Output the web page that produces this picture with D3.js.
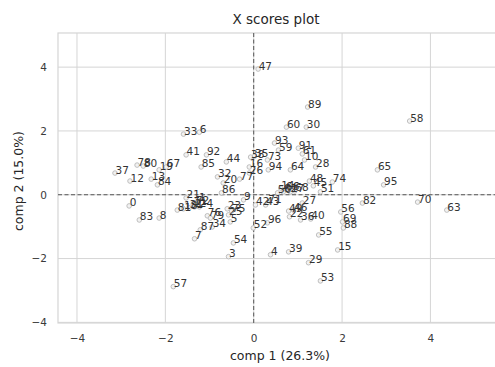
<!DOCTYPE html>
<html>
<head>
<meta charset="utf-8">
<script src="https://cdn.jsdelivr.net/npm/d3@7/dist/d3.min.js"></script>
<style>
  html, body { margin: 0; padding: 0; background: #fff; }
  svg { display: block; font-family: "DejaVu Sans", sans-serif; }
</style>
</head>
<body>
<svg id="chart" width="495" height="367"></svg>
<script>
// Sample labels and their PLS X scores (comp 1, comp 2)
const sampleIds = [0,1,2,3,4,5,6,7,8,9,10,11,12,13,14,15,16,17,18,19,20,21,22,23,24,25,26,27,28,29,30,31,32,33,34,35,36,37,38,39,40,41,42,43,44,45,46,47,48,49,50,51,52,53,54,55,56,57,58,59,60,61,62,63,64,65,66,67,68,69,70,71,72,73,74,75,76,77,78,79,80,81,82,83,84,85,86,87,88,89,91,92,93,94,95,96];
const comp1 = [-2.82,-1.25,-1.34,-0.57,0.38,-0.53,-1.23,-1.34,-2.14,-0.23,1.15,-1.37,-2.80,-2.32,0.61,1.90,-0.10,0.83,-1.59,-2.14,-0.69,-1.53,0.81,-0.60,-1.23,-0.57,-0.10,1.10,1.40,1.24,1.19,-1.46,-0.82,-1.59,-0.94,0.02,1.06,-3.14,-0.07,0.79,1.29,-1.53,0.04,0.27,-0.62,1.35,0.90,0.10,1.26,0.79,0.54,1.51,-0.01,1.51,-0.46,1.47,1.97,-1.82,3.53,0.56,0.74,1.10,0.67,4.37,0.83,2.80,0.72,-1.98,0.93,2.01,3.71,0.32,-1.32,0.31,1.78,-0.50,-1.05,-0.32,-2.64,-0.98,-2.50,-1.73,2.46,-2.59,-2.18,-1.19,-0.73,-1.21,2.03,1.22,1.01,-1.07,0.47,0.33,2.94,0.31];
const comp2 = [-0.35,-0.19,-0.38,-1.94,-1.88,-0.85,1.96,-1.38,-0.73,-0.16,1.09,-0.29,0.43,0.49,0.21,-1.73,0.87,0.09,-0.44,0.78,0.37,-0.10,-0.69,-0.44,-0.38,-0.63,0.68,-0.26,0.87,-2.13,2.12,-0.41,0.56,1.90,-1.01,1.21,-0.79,0.68,1.18,-1.79,-0.76,1.25,-0.32,-0.32,1.03,0.28,-0.48,3.94,0.43,-0.51,0.06,0.09,-1.04,-2.70,-1.51,-1.26,-0.54,-2.88,2.31,1.40,2.12,1.28,0.09,-0.48,0.78,0.78,0.18,0.87,0.12,-0.85,-0.23,-0.24,-0.26,1.09,0.40,-0.51,-0.66,0.49,0.93,-0.73,0.90,-0.48,-0.26,-0.79,0.31,0.87,0.06,-1.10,-1.04,2.75,1.46,1.25,1.62,0.78,0.31,-0.88];
const tickValues = [-4, -2, 0, 2, 4];

const titleText = "X scores plot";
const xLabel = "comp 1 (26.3%)";
const yLabel = "comp 2 (15.0%)";

(function draw() {
  const svg = d3.select("#chart");
  const pLeft = 58, pRight = 502, pTop = 33, pBottom = 323;

  const x = d3.scaleLinear().domain([-4.43, 5.62]).range([pLeft, pRight]);
  const y = d3.scaleLinear().domain([-4.02, 5.07]).range([pBottom, pTop]);

  const gridColor = "#d5d5d5";
  const tickColor = "#3a3a3a";

  // background grid
  const grid = svg.append("g");
  grid.selectAll("line.vx").data(tickValues).join("line")
    .attr("x1", d => x(d)).attr("x2", d => x(d))
    .attr("y1", pTop).attr("y2", pBottom)
    .attr("stroke", gridColor).attr("stroke-width", 1);
  grid.selectAll("line.hy").data(tickValues).join("line")
    .attr("x1", pLeft).attr("x2", pRight)
    .attr("y1", d => y(d)).attr("y2", d => y(d))
    .attr("stroke", gridColor).attr("stroke-width", 1);

  // frame
  svg.append("rect")
    .attr("x", pLeft).attr("y", pTop)
    .attr("width", pRight - pLeft).attr("height", pBottom - pTop)
    .attr("fill", "none").attr("stroke", gridColor).attr("stroke-width", 1.2);

  // axes (labels only, no tick marks)
  const fmt = d => (d < 0 ? "\u2212" + Math.abs(d) : String(d));
  const xAxis = svg.append("g")
    .attr("transform", `translate(0,${pBottom})`)
    .call(d3.axisBottom(x).tickValues(tickValues).tickFormat(fmt).tickSize(0).tickPadding(12));
  const yAxis = svg.append("g")
    .attr("transform", `translate(${pLeft},0)`)
    .call(d3.axisLeft(y).tickValues(tickValues).tickFormat(fmt).tickSize(0).tickPadding(11));
  [xAxis, yAxis].forEach(a => {
    a.select(".domain").remove();
    a.selectAll("text").attr("fill", tickColor).style("font-size", "10.5px")
      .style("font-family", '"DejaVu Sans", sans-serif');
  });

  // zero reference lines
  svg.append("line")
    .attr("x1", x(0)).attr("x2", x(0)).attr("y1", pTop).attr("y2", pBottom)
    .attr("stroke", "#555").attr("stroke-width", 1).attr("stroke-dasharray", "4,2.5");
  svg.append("line")
    .attr("x1", pLeft).attr("x2", pRight).attr("y1", y(0)).attr("y2", y(0))
    .attr("stroke", "#555").attr("stroke-width", 1).attr("stroke-dasharray", "4,2.5");

  // points with sample labels
  const pts = sampleIds.map((id, i) => ({ id, c1: comp1[i], c2: comp2[i] }));
  const pg = svg.append("g");
  pg.selectAll("circle").data(pts).join("circle")
    .attr("cx", d => x(d.c1)).attr("cy", d => y(d.c2)).attr("r", 2.3)
    .attr("fill", "#f2f2f2").attr("stroke", "#b8b8b8").attr("stroke-width", 0.9);
  pg.selectAll("text").data(pts).join("text")
    .attr("x", d => x(d.c1) + 0.5).attr("y", d => y(d.c2) + 0.5)
    .attr("fill", "#333").style("font-size", "10.5px")
    .text(d => d.id);

  // titles
  svg.append("text").attr("x", 276).attr("y", 24).attr("text-anchor", "middle")
    .attr("fill", "#262626").style("font-size", "13.5px").text(titleText);
  svg.append("text").attr("x", 280).attr("y", 360).attr("text-anchor", "middle")
    .attr("fill", "#262626").style("font-size", "12.5px").text(xLabel);
  svg.append("text").attr("transform", "translate(23,181) rotate(-90)")
    .attr("text-anchor", "middle")
    .attr("fill", "#262626").style("font-size", "12.5px").text(yLabel);
})();
</script>
</body>
</html>
